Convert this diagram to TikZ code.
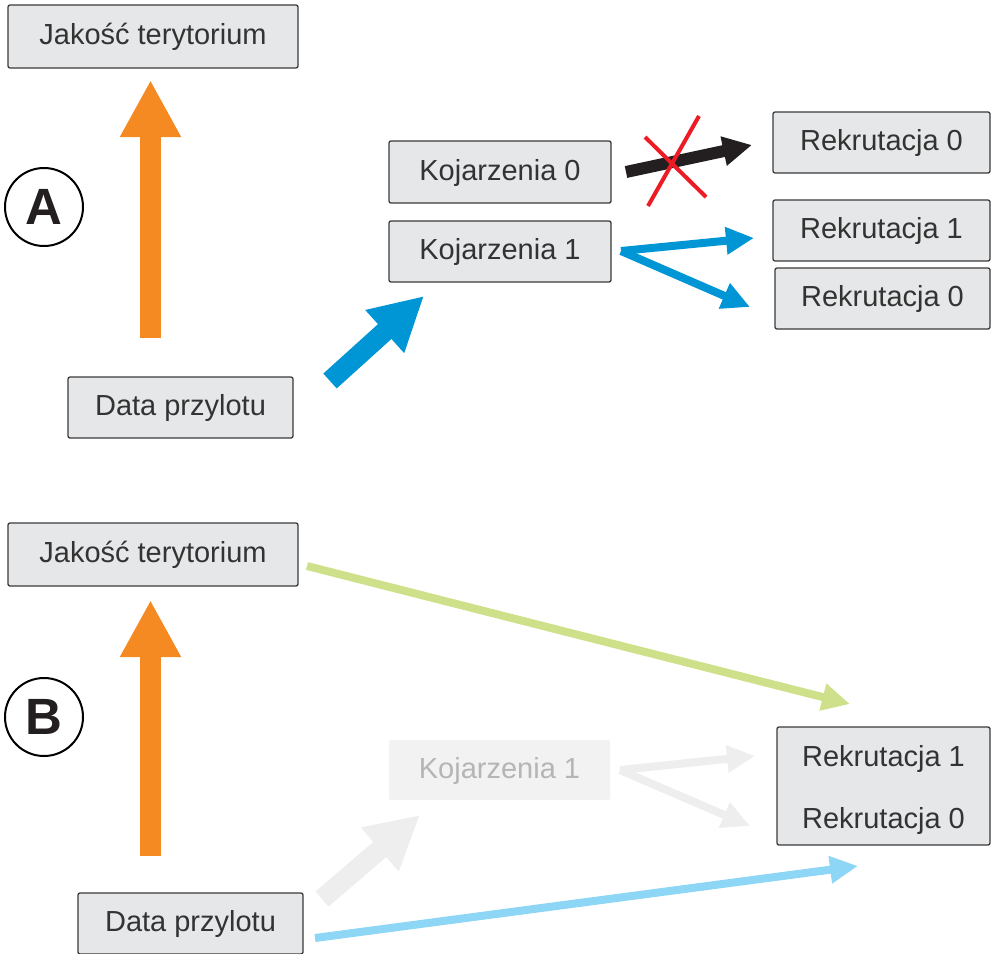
\documentclass[tikz,border=0pt]{standalone}
\usepackage{fontspec}
\setmainfont{Liberation Sans}
\usetikzlibrary{arrows.meta}
\definecolor{boxfill}{HTML}{E6E7E8}
\definecolor{boxline}{HTML}{3A3A3A}
\definecolor{boxtext}{HTML}{333333}
\definecolor{fadefill}{HTML}{F2F2F2}
\definecolor{fadetext}{HTML}{B5B5B5}
\definecolor{orangeA}{HTML}{F58A22}
\definecolor{blueA}{HTML}{0096D6}
\definecolor{blackA}{HTML}{231F20}
\definecolor{redX}{HTML}{ED1C24}
\definecolor{greenB}{HTML}{CFE08A}
\definecolor{lblueB}{HTML}{8ED6F6}
\definecolor{grayB}{HTML}{EEEEEE}
\begin{document}
\begin{tikzpicture}[x=1pt,y=-1pt,
  box/.style={draw=boxline, fill=boxfill, rounded corners=2pt, line width=1.3pt,
    text=boxtext, font=\fontsize{29}{34}\selectfont, text height=20.8pt,
    text depth=4pt, inner sep=0pt},
  fadebox/.style={box, draw=none, fill=fadefill, text=fadetext},
  lbl/.style={circle, draw=black, line width=2pt, minimum size=78pt, inner sep=0pt,
    font=\fontsize{51}{60}\selectfont\bfseries, text=blackA},
  bigarrow/.style={line width=21pt, -{Triangle[length=57pt,width=57pt]}},
  midarrow/.style={line width=20pt, -{Triangle[length=53pt,width=54pt]}},
  thinarrow/.style={line width=8pt, -{Triangle[length=28pt,width=26pt]}},
  blkarrow/.style={line width=12pt, -{Triangle[length=29pt,width=28pt]}},
  cross/.style={redX, line width=4pt}
]
\useasboundingbox (0,0) rectangle (992,953);

% ---- Panel A ----
\node[box, minimum width=290pt, minimum height=63pt] (jt1) at (153,36.5) {Jakość terytorium};
\node[box, minimum width=222pt, minimum height=62pt] (k0) at (500,172) {Kojarzenia 0};
\node[box, minimum width=222pt, minimum height=61pt] (k1) at (500,251.5) {Kojarzenia 1};
\node[box, minimum width=217pt, minimum height=61pt] (r0a) at (881.5,142.5) {Rekrutacja 0};
\node[box, minimum width=217pt, minimum height=61pt] (r1) at (881.5,230.5) {Rekrutacja 1};
\node[box, minimum width=215pt, minimum height=61pt] (r0b) at (882.5,298.5) {Rekrutacja 0};
\node[box, minimum width=225pt, minimum height=61pt] (dp1) at (180.5,407.5) {Data przylotu};
\node[lbl] (cA) at (44,207) {A};

\coordinate (oA1) at (150.5,338);
\coordinate (oA2) at (150.5,80);
\draw[bigarrow, orangeA] (oA1) -- (oA2);

\coordinate (bA1) at (330,381);
\coordinate (bA2) at (424,296);
\draw[midarrow, blueA] (bA1) -- (bA2);

\coordinate (kA1) at (626,172);
\coordinate (kA2) at (752,145);
\draw[blkarrow, blackA] (kA1) -- (kA2);
\coordinate (xa1) at (645,137);
\coordinate (xa2) at (706,197);
\coordinate (xb1) at (699,116);
\coordinate (xb2) at (648,206);
\draw[cross] (xa1) -- (xa2);
\draw[cross] (xb1) -- (xb2);

\coordinate (kbs) at (621,251);
\coordinate (kbu) at (754,238);
\coordinate (kbd) at (750,307);
\draw[thinarrow, blueA] (kbs) -- (kbu);
\draw[thinarrow, blueA] (kbs) -- (kbd);

% ---- Panel B ----
\node[box, minimum width=290pt, minimum height=63pt] (jt2) at (153,554.5) {Jakość terytorium};
\node[lbl] (cB) at (44,717) {B};
\node[fadebox, minimum width=221pt, minimum height=60pt] (k1b) at (499.5,770) {Kojarzenia 1};
\node[box, minimum width=213pt, minimum height=118pt, text height=88pt, text depth=4pt,
  align=center, font=\fontsize{29}{62}\selectfont] (rb) at (883.5,786) {Rekrutacja 1\\Rekrutacja 0};
\node[box, minimum width=225pt, minimum height=61pt] (dp2) at (190.5,923.5) {Data przylotu};

\coordinate (oB1) at (150.5,856);
\coordinate (oB2) at (150.5,600);
\draw[bigarrow, orangeA] (oB1) -- (oB2);

\coordinate (gB1) at (322,899);
\coordinate (gB2) at (420,815);
\draw[midarrow, grayB] (gB1) -- (gB2);

\coordinate (gbs) at (620,770);
\coordinate (gbu) at (755,756);
\coordinate (gbd) at (750,826);
\draw[thinarrow, grayB] (gbs) -- (gbu);
\draw[thinarrow, grayB] (gbs) -- (gbd);

\coordinate (grs) at (307,566);
\coordinate (gre) at (850,704);
\draw[thinarrow, greenB] (grs) -- (gre);

\coordinate (lbs) at (315,938);
\coordinate (lbe) at (858,866);
\draw[thinarrow, lblueB] (lbs) -- (lbe);
\end{tikzpicture}
\end{document}
